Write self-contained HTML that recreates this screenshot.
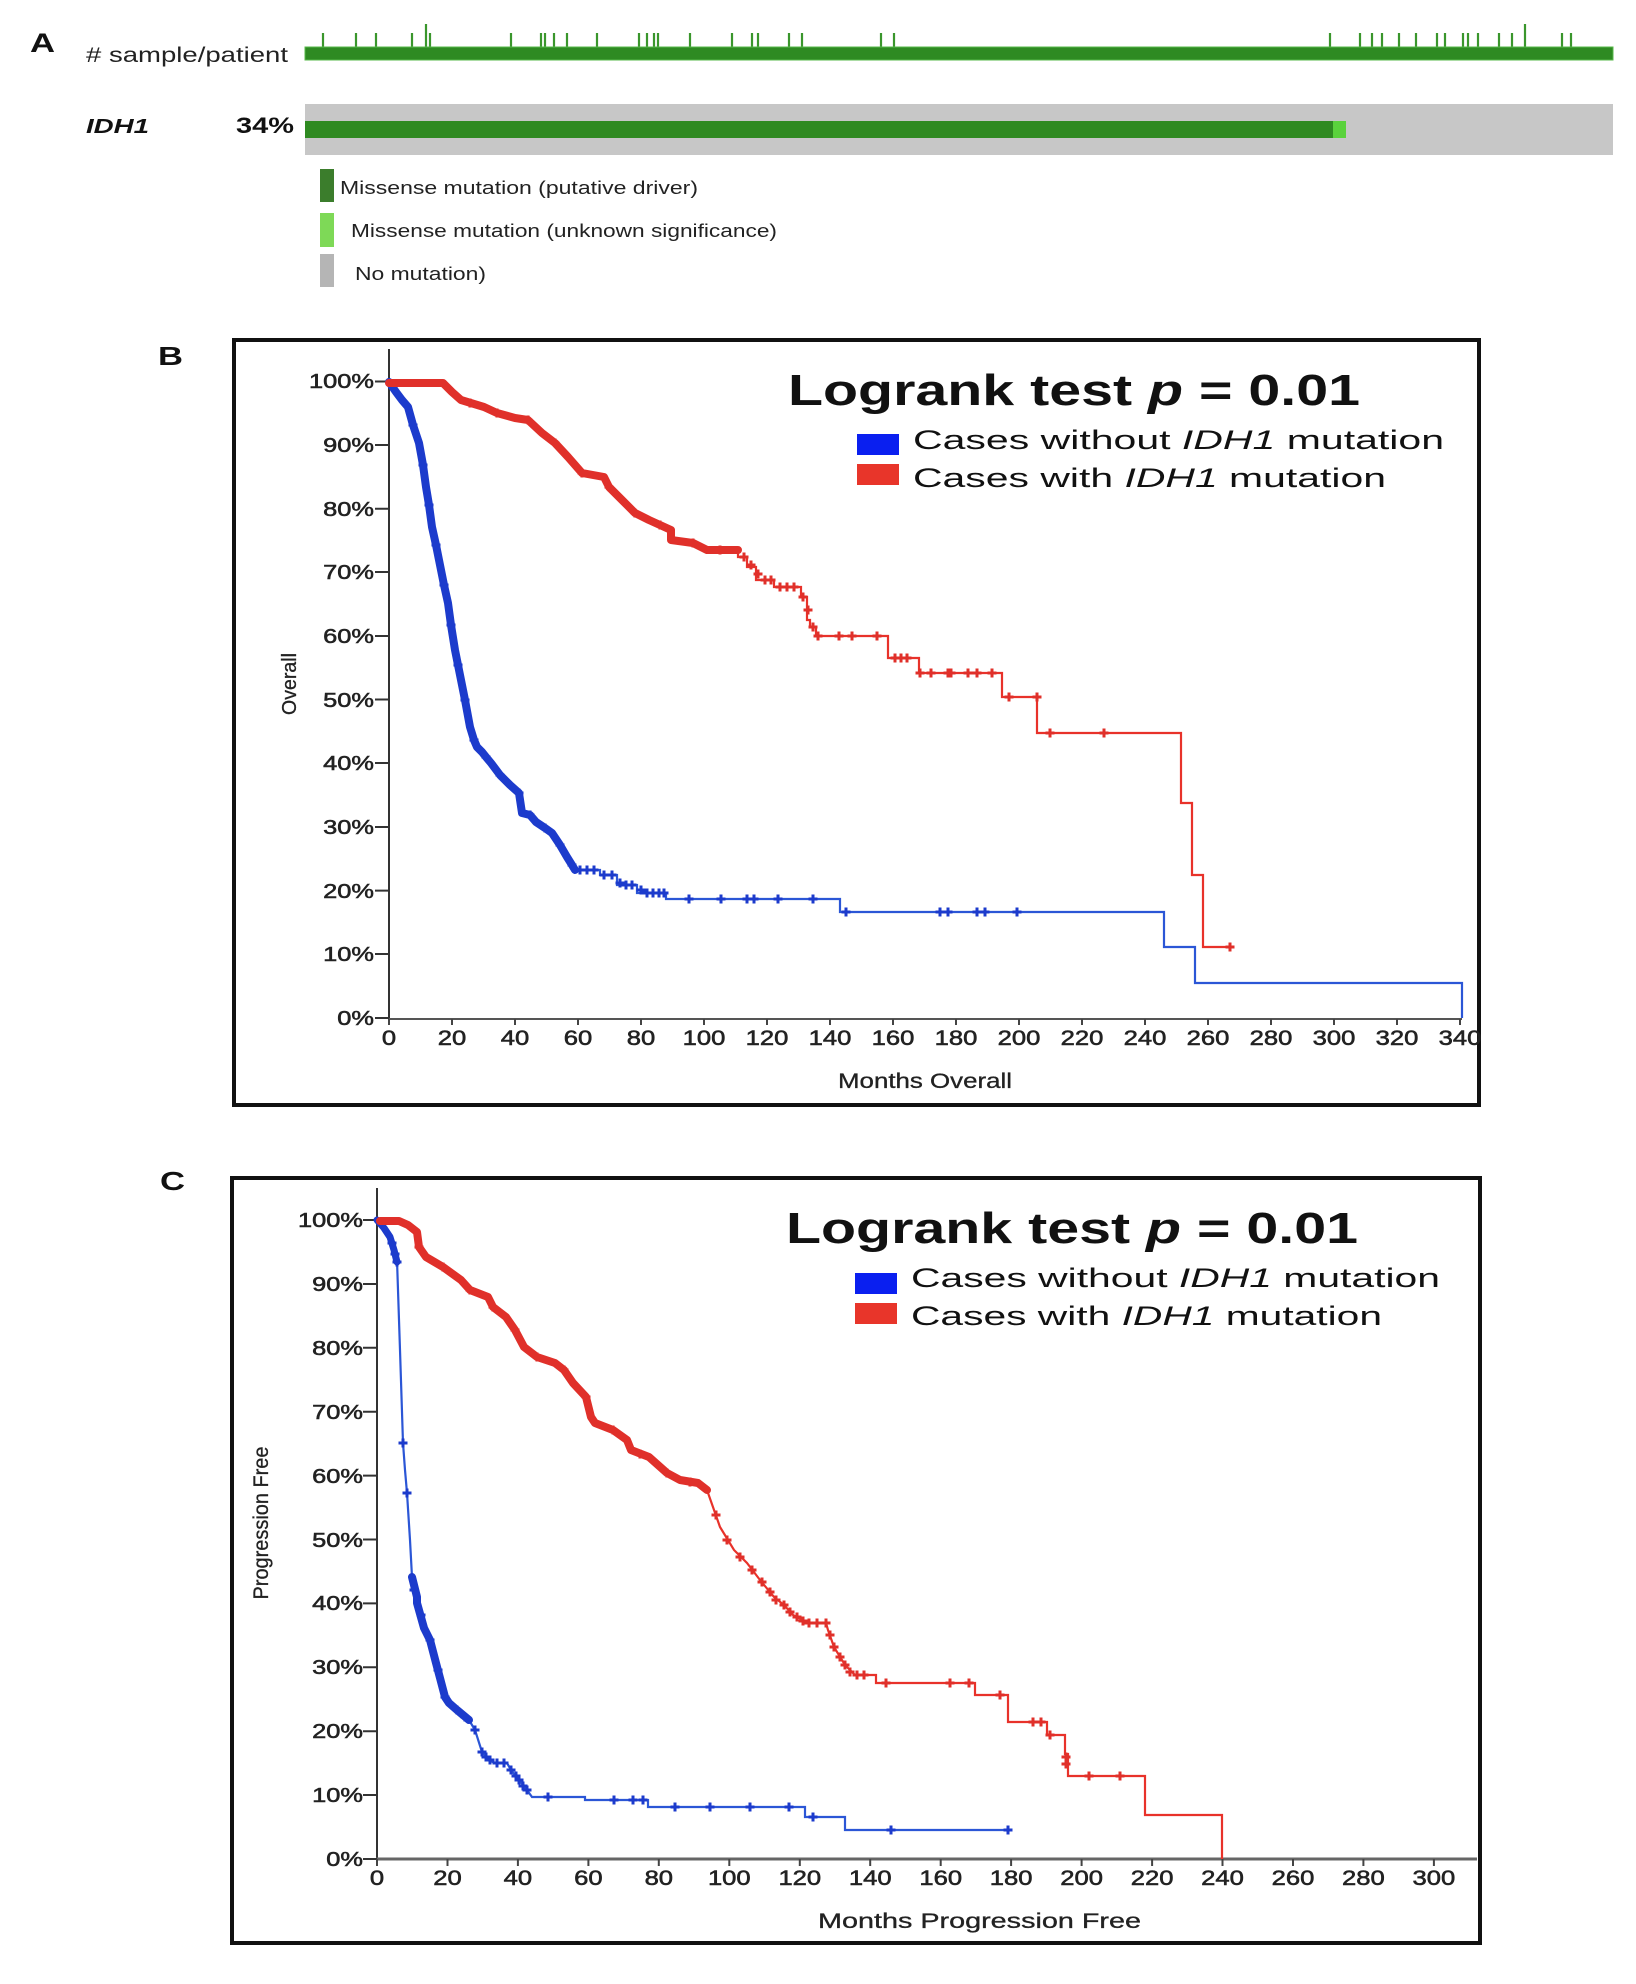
<!DOCTYPE html>
<html><head><meta charset="utf-8"><style>html,body{margin:0;padding:0;background:#fff;}svg{display:block;}</style></head>
<body>
<svg width="1636" height="1984" viewBox="0 0 1636 1984" xmlns="http://www.w3.org/2000/svg" font-family="'Liberation Sans', Arial, sans-serif">
<defs>
<path id="b" d="M-4.5,0H4.5M0,-4.5V4.5" stroke="#1c3bcc" stroke-width="3" fill="none"/>
<path id="r" d="M-4.5,0H4.5M0,-4.5V4.5" stroke="#e0302a" stroke-width="3" fill="none"/>
</defs>
<rect width="1636" height="1984" fill="#fff"/>

<!-- ===== Panel A ===== -->
<text x="30" y="52" font-size="27" font-weight="bold" fill="#111" textLength="25" lengthAdjust="spacingAndGlyphs">A</text>
<text x="86" y="62" font-size="21" fill="#222" textLength="202" lengthAdjust="spacingAndGlyphs"># sample/patient</text>
<path d="M323,33V47M356,33V47M376,33V47M412,33V47M426,24V47M430,33V47M511,33V47M541,33V47M545,33V47M554,33V47M567,33V47M597,33V47M639,33V47M647,33V47M654,33V47M658,33V47M690,33V47M732,33V47M752,33V47M758,33V47M789,33V47M802,33V47M881,33V47M894,33V47M1330,33V47M1360,33V47M1372,33V47M1382,33V47M1399,33V47M1416,33V47M1437,33V47M1445,33V47M1463,33V47M1468,33V47M1478,33V47M1499,33V47M1512,33V47M1525,24V47M1562,33V47M1571,33V47" stroke="#3a962c" stroke-width="2.2"/>
<rect x="305" y="47" width="1308" height="13" fill="#2e8a22" stroke="#57b84a" stroke-width="1"/>

<text x="86" y="133" font-size="20" font-weight="bold" font-style="italic" fill="#111" textLength="63" lengthAdjust="spacingAndGlyphs">IDH1</text>
<text x="236" y="133" font-size="22" font-weight="bold" fill="#111" textLength="58" lengthAdjust="spacingAndGlyphs">34%</text>
<rect x="305" y="104" width="1308" height="51" fill="#c7c7c7"/>
<rect x="305" y="121" width="1028" height="17" fill="#2f8a21"/>
<rect x="1333" y="121" width="13" height="17" fill="#5ad23c"/>

<rect x="320" y="169" width="14" height="33" fill="#3b7d2c"/>
<text x="340" y="194" font-size="18" fill="#222" textLength="358" lengthAdjust="spacingAndGlyphs">Missense mutation (putative driver)</text>
<rect x="320" y="213" width="14" height="34" fill="#7ed957"/>
<text x="351" y="237" font-size="18" fill="#222" textLength="426" lengthAdjust="spacingAndGlyphs">Missense mutation (unknown significance)</text>
<rect x="320" y="254" width="14" height="33" fill="#b5b5b5"/>
<text x="355" y="280" font-size="18" fill="#222" textLength="131" lengthAdjust="spacingAndGlyphs">No mutation)</text>

<!-- ===== Panel B ===== -->
<text x="158" y="365" font-size="26" font-weight="bold" fill="#111" textLength="25" lengthAdjust="spacingAndGlyphs">B</text>
<rect x="234" y="340" width="1245" height="765" fill="none" stroke="#111" stroke-width="4"/>

<line x1="389" y1="349" x2="389" y2="1019" stroke="#333" stroke-width="2"/>
<line x1="388" y1="1019" x2="1462" y2="1019" stroke="#555" stroke-width="2"/>
<path d="M375,381.5H389M375,445H389M375,508.7H389M375,572H389M375,636H389M375,699.5H389M375,763H389M375,827H389M375,890.6H389M375,954H389M375,1018H389" stroke="#333" stroke-width="2"/>
<path d="M389,1019V1025M452,1019V1025M515,1019V1025M578,1019V1025M641,1019V1025M704,1019V1025M767,1019V1025M830,1019V1025M893,1019V1025M956,1019V1025M1019,1019V1025M1082,1019V1025M1145,1019V1025M1208,1019V1025M1271,1019V1025M1334,1019V1025M1397,1019V1025M1460,1019V1025" stroke="#444" stroke-width="2"/>
<g font-size="20" fill="#222" text-anchor="end" stroke="#222" stroke-width="0.55">
<text transform="translate(374,388) scale(1.27,1)">100%</text>
<text transform="translate(374,452) scale(1.27,1)">90%</text>
<text transform="translate(374,516) scale(1.27,1)">80%</text>
<text transform="translate(374,579) scale(1.27,1)">70%</text>
<text transform="translate(374,643) scale(1.27,1)">60%</text>
<text transform="translate(374,707) scale(1.27,1)">50%</text>
<text transform="translate(374,770) scale(1.27,1)">40%</text>
<text transform="translate(374,834) scale(1.27,1)">30%</text>
<text transform="translate(374,898) scale(1.27,1)">20%</text>
<text transform="translate(374,961) scale(1.27,1)">10%</text>
<text transform="translate(374,1025) scale(1.27,1)">0%</text>
</g>
<g font-size="21" fill="#222" text-anchor="middle" stroke="#222" stroke-width="0.55">
<text transform="translate(389,1045) scale(1.22,1)">0</text>
<text transform="translate(452,1045) scale(1.22,1)">20</text>
<text transform="translate(515,1045) scale(1.22,1)">40</text>
<text transform="translate(578,1045) scale(1.22,1)">60</text>
<text transform="translate(641,1045) scale(1.22,1)">80</text>
<text transform="translate(704,1045) scale(1.22,1)">100</text>
<text transform="translate(767,1045) scale(1.22,1)">120</text>
<text transform="translate(830,1045) scale(1.22,1)">140</text>
<text transform="translate(893,1045) scale(1.22,1)">160</text>
<text transform="translate(956,1045) scale(1.22,1)">180</text>
<text transform="translate(1019,1045) scale(1.22,1)">200</text>
<text transform="translate(1082,1045) scale(1.22,1)">220</text>
<text transform="translate(1145,1045) scale(1.22,1)">240</text>
<text transform="translate(1208,1045) scale(1.22,1)">260</text>
<text transform="translate(1271,1045) scale(1.22,1)">280</text>
<text transform="translate(1334,1045) scale(1.22,1)">300</text>
<text transform="translate(1397,1045) scale(1.22,1)">320</text>
<text transform="translate(1460,1045) scale(1.22,1)">340</text>
</g>
<text x="838" y="1088" font-size="21" fill="#222" stroke="#222" stroke-width="0.3" textLength="174" lengthAdjust="spacingAndGlyphs">Months Overall</text>
<text transform="translate(296,684) rotate(-90)" text-anchor="middle" font-size="20" fill="#222" stroke="#222" stroke-width="0.3" textLength="62" lengthAdjust="spacingAndGlyphs">Overall</text>

<text x="788" y="405" font-size="44" font-weight="bold" fill="#111" textLength="572" lengthAdjust="spacingAndGlyphs">Logrank test <tspan font-style="italic">p</tspan> = 0.01</text>
<rect x="857" y="434" width="42" height="21" fill="#0a1ff0"/>
<rect x="857" y="464" width="42" height="21" fill="#e8352a"/>
<text x="913" y="449" font-size="27" fill="#111" textLength="531" lengthAdjust="spacingAndGlyphs">Cases without <tspan font-style="italic">IDH1</tspan>  mutation</text>
<text x="913" y="487" font-size="27" fill="#111" textLength="473" lengthAdjust="spacingAndGlyphs">Cases with <tspan font-style="italic">IDH1</tspan>  mutation</text>

<path d="M389,382 L396,392 L402,400 L408,407 L413,425 L419,443 L423,465 L426,487 L429,505 L432,527 L436,545 L439,560 L444,585 L448,603 L451,625 L455,650 L458,665 L461,680 L465,700 L470,727 L474,740 L477,747 L482,752 L486,757 L491,763 L500,775 L510,785 L519,793 L522,813 L530,815 L536,822 L545,828 L552,833 L560,845 L567,857 L572,865 L575,870 H600 V875 H617 V885 H637 V893 H666 V899 H840 V912 H1164 V947 H1195 V983 H1462 V1018" fill="none" stroke="#2b56d6" stroke-width="2.2"/>
<path d="M389,382 L396,392 L402,400 L408,407 L413,425 L419,443 L423,465 L426,487 L429,505 L432,527 L436,545 L439,560 L444,585 L448,603 L451,625 L455,650 L458,665 L461,680 L465,700 L470,727 L474,740 L477,747 L482,752 L486,757 L491,763 L500,775 L510,785 L519,793 L522,813 L530,815 L536,822 L545,828 L552,833 L560,845 L567,857 L572,865 L575,870" fill="none" stroke="#1c3bcc" stroke-width="8" stroke-linejoin="round" stroke-linecap="round"/>
<g>
<use href="#b" x="413" y="425"/><use href="#b" x="423" y="465"/><use href="#b" x="429" y="505"/><use href="#b" x="436" y="545"/><use href="#b" x="444" y="585"/><use href="#b" x="451" y="625"/><use href="#b" x="458" y="665"/><use href="#b" x="465" y="700"/><use href="#b" x="474" y="740"/><use href="#b" x="486" y="757"/><use href="#b" x="500" y="775"/><use href="#b" x="519" y="793"/><use href="#b" x="530" y="815"/><use href="#b" x="545" y="828"/><use href="#b" x="560" y="845"/><use href="#b" x="572" y="865"/>
<use href="#b" x="580" y="870"/><use href="#b" x="587" y="870"/><use href="#b" x="594" y="870"/><use href="#b" x="604" y="875"/><use href="#b" x="612" y="875"/><use href="#b" x="620" y="883"/><use href="#b" x="626" y="885"/><use href="#b" x="632" y="885"/><use href="#b" x="641" y="890"/><use href="#b" x="647" y="893"/><use href="#b" x="653" y="893"/><use href="#b" x="659" y="893"/><use href="#b" x="664" y="893"/>
<use href="#b" x="689" y="899"/><use href="#b" x="721" y="899"/><use href="#b" x="747" y="899"/><use href="#b" x="754" y="899"/><use href="#b" x="778" y="899"/><use href="#b" x="813" y="899"/>
<use href="#b" x="846" y="912"/><use href="#b" x="940" y="912"/><use href="#b" x="948" y="912"/><use href="#b" x="977" y="912"/><use href="#b" x="985" y="912"/><use href="#b" x="1017" y="912"/>
</g>
<path d="M389,382 H443 L452,392 L461,400 L484,407 L497,413 L515,418 L528,420 L542,433 L555,443 L568,457 L582,473 L604,477 L609,487 L622,500 L635,513 L649,520 L671,530 L671,540 L693,543 L707,550 H738 V557 H747 V567 H756 V580 H774 V587 H801 V597 H807 V620 H810 V627 H816 V636 H888 V658 H919 V673 H1002 V697 H1037 V733 H1181 V803 H1192 V875 H1203 V947 H1230" fill="none" stroke="#e8322a" stroke-width="2.2"/>
<path d="M389,383 H443 L452,392 L461,400 L484,407 L497,413 L515,418 L528,420 L542,433 L555,443 L568,457 L582,473 L604,477 L609,487 L622,500 L635,513 L649,520 L671,530 L671,540 L693,543 L707,550 H738" fill="none" stroke="#e0302a" stroke-width="8" stroke-linejoin="round" stroke-linecap="round"/>
<g>
<use href="#r" x="470" y="403"/><use href="#r" x="497" y="413"/><use href="#r" x="528" y="420"/><use href="#r" x="555" y="443"/><use href="#r" x="582" y="473"/><use href="#r" x="609" y="487"/><use href="#r" x="635" y="513"/><use href="#r" x="660" y="525"/><use href="#r" x="693" y="543"/><use href="#r" x="720" y="550"/>
<use href="#r" x="744" y="557"/><use href="#r" x="751" y="565"/><use href="#r" x="758" y="574"/><use href="#r" x="765" y="580"/><use href="#r" x="771" y="580"/><use href="#r" x="780" y="587"/><use href="#r" x="787" y="587"/><use href="#r" x="794" y="587"/><use href="#r" x="803" y="597"/><use href="#r" x="808" y="610"/><use href="#r" x="813" y="627"/><use href="#r" x="818" y="636"/>
<use href="#r" x="839" y="636"/><use href="#r" x="852" y="636"/><use href="#r" x="877" y="636"/>
<use href="#r" x="895" y="658"/><use href="#r" x="901" y="658"/><use href="#r" x="907" y="658"/>
<use href="#r" x="920" y="673"/><use href="#r" x="931" y="673"/><use href="#r" x="948" y="673"/><use href="#r" x="951" y="673"/><use href="#r" x="968" y="673"/><use href="#r" x="977" y="673"/><use href="#r" x="992" y="673"/>
<use href="#r" x="1009" y="697"/><use href="#r" x="1037" y="697"/>
<use href="#r" x="1050" y="733"/><use href="#r" x="1104" y="733"/>
<use href="#r" x="1230" y="947"/>
</g>

<!-- ===== Panel C ===== -->
<text x="160" y="1190" font-size="26" font-weight="bold" fill="#111" textLength="25" lengthAdjust="spacingAndGlyphs">C</text>
<rect x="232" y="1178" width="1248" height="765" fill="none" stroke="#111" stroke-width="4"/>

<line x1="377" y1="1188" x2="377" y2="1859" stroke="#333" stroke-width="2"/>
<line x1="376" y1="1859" x2="1477" y2="1859" stroke="#666" stroke-width="3"/>
<path d="M363,1220H377M363,1284H377M363,1347.8H377M363,1411.7H377M363,1475.6H377M363,1539.5H377M363,1603.4H377M363,1667.3H377M363,1731.2H377M363,1795H377M363,1859H377" stroke="#333" stroke-width="2"/>
<path d="M377,1859V1866M447.5,1859V1866M517.9,1859V1866M588.4,1859V1866M658.8,1859V1866M729.3,1859V1866M799.8,1859V1866M870.2,1859V1866M940.7,1859V1866M1011.1,1859V1866M1081.6,1859V1866M1152.1,1859V1866M1222.5,1859V1866M1293,1859V1866M1363.4,1859V1866M1433.9,1859V1866" stroke="#444" stroke-width="2"/>
<g font-size="20" fill="#222" text-anchor="end" stroke="#222" stroke-width="0.55">
<text transform="translate(363,1227) scale(1.27,1)">100%</text>
<text transform="translate(363,1291) scale(1.27,1)">90%</text>
<text transform="translate(363,1355) scale(1.27,1)">80%</text>
<text transform="translate(363,1419) scale(1.27,1)">70%</text>
<text transform="translate(363,1483) scale(1.27,1)">60%</text>
<text transform="translate(363,1547) scale(1.27,1)">50%</text>
<text transform="translate(363,1610) scale(1.27,1)">40%</text>
<text transform="translate(363,1674) scale(1.27,1)">30%</text>
<text transform="translate(363,1738) scale(1.27,1)">20%</text>
<text transform="translate(363,1802) scale(1.27,1)">10%</text>
<text transform="translate(363,1866) scale(1.27,1)">0%</text>
</g>
<g font-size="21" fill="#222" text-anchor="middle" stroke="#222" stroke-width="0.55">
<text transform="translate(377,1885) scale(1.22,1)">0</text>
<text transform="translate(447.5,1885) scale(1.22,1)">20</text>
<text transform="translate(517.9,1885) scale(1.22,1)">40</text>
<text transform="translate(588.4,1885) scale(1.22,1)">60</text>
<text transform="translate(658.8,1885) scale(1.22,1)">80</text>
<text transform="translate(729.3,1885) scale(1.22,1)">100</text>
<text transform="translate(799.8,1885) scale(1.22,1)">120</text>
<text transform="translate(870.2,1885) scale(1.22,1)">140</text>
<text transform="translate(940.7,1885) scale(1.22,1)">160</text>
<text transform="translate(1011.1,1885) scale(1.22,1)">180</text>
<text transform="translate(1081.6,1885) scale(1.22,1)">200</text>
<text transform="translate(1152.1,1885) scale(1.22,1)">220</text>
<text transform="translate(1222.5,1885) scale(1.22,1)">240</text>
<text transform="translate(1293,1885) scale(1.22,1)">260</text>
<text transform="translate(1363.4,1885) scale(1.22,1)">280</text>
<text transform="translate(1433.9,1885) scale(1.22,1)">300</text>
</g>
<text x="818" y="1928" font-size="21" fill="#222" stroke="#222" stroke-width="0.3" textLength="323" lengthAdjust="spacingAndGlyphs">Months Progression Free</text>
<text transform="translate(268,1523) rotate(-90)" text-anchor="middle" font-size="21" fill="#222" stroke="#222" stroke-width="0.3" textLength="153" lengthAdjust="spacingAndGlyphs">Progression Free</text>

<text x="786" y="1243" font-size="44" font-weight="bold" fill="#111" textLength="572" lengthAdjust="spacingAndGlyphs">Logrank test <tspan font-style="italic">p</tspan> = 0.01</text>
<rect x="855" y="1273" width="42" height="21" fill="#0a1ff0"/>
<rect x="855" y="1303" width="42" height="21" fill="#e8352a"/>
<text x="911" y="1287" font-size="27" fill="#111" textLength="529" lengthAdjust="spacingAndGlyphs">Cases without <tspan font-style="italic">IDH1</tspan>  mutation</text>
<text x="911" y="1325" font-size="27" fill="#111" textLength="471" lengthAdjust="spacingAndGlyphs">Cases with <tspan font-style="italic">IDH1</tspan>  mutation</text>

<path d="M377,1220 L384,1228 L390,1237 L394,1250 L397,1260 L400,1350 L403,1443 L405,1470 L407,1493 L410,1540 L412,1577 L417,1597 L417,1603 L424,1628 L430,1640 L436,1663 L440,1678 L445,1697 L449,1703 L457,1710 L469,1720 L475,1730 L482,1752 L490,1760 L494,1763 H507 L511,1770 L519,1780 L527,1790 L532,1797 H585 V1800 H648 V1807 H805 V1817 H845 V1830 H1008" fill="none" stroke="#2b56d6" stroke-width="2.2"/>
<path d="M377,1220 L384,1228 L390,1237 L394,1250 L397,1262" fill="none" stroke="#1c3bcc" stroke-width="7" stroke-linejoin="round" stroke-linecap="round"/>
<path d="M412,1577 L417,1597 L417,1603 L424,1628 L430,1640 L436,1663 L440,1678 L445,1697 L449,1703 L457,1710 L469,1720" fill="none" stroke="#1c3bcc" stroke-width="8" stroke-linejoin="round" stroke-linecap="round"/>
<g>
<use href="#b" x="392" y="1243"/><use href="#b" x="395" y="1254"/><use href="#b" x="397" y="1262"/>
<use href="#b" x="403" y="1443"/><use href="#b" x="407" y="1493"/>
<use href="#b" x="414" y="1590"/><use href="#b" x="421" y="1615"/><use href="#b" x="430" y="1640"/><use href="#b" x="438" y="1670"/><use href="#b" x="445" y="1697"/><use href="#b" x="457" y="1710"/><use href="#b" x="465" y="1717"/>
<use href="#b" x="475" y="1730"/><use href="#b" x="482" y="1752"/><use href="#b" x="486" y="1757"/><use href="#b" x="490" y="1760"/><use href="#b" x="497" y="1763"/><use href="#b" x="504" y="1763"/><use href="#b" x="511" y="1770"/><use href="#b" x="516" y="1776"/><use href="#b" x="519" y="1780"/><use href="#b" x="523" y="1786"/><use href="#b" x="527" y="1790"/>
<use href="#b" x="548" y="1797"/><use href="#b" x="614" y="1800"/><use href="#b" x="633" y="1800"/><use href="#b" x="643" y="1800"/>
<use href="#b" x="675" y="1807"/><use href="#b" x="710" y="1807"/><use href="#b" x="750" y="1807"/><use href="#b" x="789" y="1807"/>
<use href="#b" x="813" y="1817"/><use href="#b" x="891" y="1830"/><use href="#b" x="1008" y="1830"/>
</g>
<path d="M377,1220 H399 L408,1225 L417,1232 L419,1247 L426,1257 L443,1267 L461,1280 L470,1290 L488,1297 L493,1307 L506,1317 L515,1330 L524,1347 L537,1357 L555,1363 L564,1370 L573,1383 L586,1397 L591,1417 L595,1423 L613,1430 L627,1440 L631,1450 L649,1457 L667,1473 L680,1480 L698,1483 L707,1490 L720,1527 L734,1550 L747,1563 L760,1580 L774,1597 L784,1605 L793,1615 L809,1623 H826 L828,1630 L834,1647 L845,1665 L855,1675 H876 V1683 H975 V1695 H1008 V1722 H1047 V1735 H1065 V1754 H1068 V1776 H1145 V1815 H1222 V1859" fill="none" stroke="#e8322a" stroke-width="2.2"/>
<path d="M380,1221 H399 L408,1225 L417,1232 L419,1247 L426,1257 L443,1267 L461,1280 L470,1290 L488,1297 L493,1307 L506,1317 L515,1330 L524,1347 L537,1357 L555,1363 L564,1370 L573,1383 L586,1397 L591,1417 L595,1423 L613,1430 L627,1440 L631,1450 L649,1457 L667,1473 L680,1480 L698,1483 L707,1490" fill="none" stroke="#e0302a" stroke-width="8" stroke-linejoin="round" stroke-linecap="round"/>
<g>
<use href="#r" x="419" y="1247"/><use href="#r" x="443" y="1267"/><use href="#r" x="470" y="1290"/><use href="#r" x="493" y="1307"/><use href="#r" x="515" y="1330"/><use href="#r" x="537" y="1357"/><use href="#r" x="564" y="1370"/><use href="#r" x="586" y="1397"/><use href="#r" x="613" y="1430"/><use href="#r" x="640" y="1454"/><use href="#r" x="667" y="1473"/><use href="#r" x="690" y="1482"/>
<use href="#r" x="716" y="1515"/><use href="#r" x="727" y="1540"/><use href="#r" x="740" y="1557"/><use href="#r" x="752" y="1570"/><use href="#r" x="762" y="1582"/><use href="#r" x="770" y="1592"/><use href="#r" x="776" y="1600"/><use href="#r" x="784" y="1605"/><use href="#r" x="790" y="1612"/><use href="#r" x="797" y="1617"/><use href="#r" x="803" y="1621"/><use href="#r" x="809" y="1623"/><use href="#r" x="817" y="1623"/><use href="#r" x="826" y="1623"/>
<use href="#r" x="830" y="1635"/><use href="#r" x="834" y="1647"/><use href="#r" x="840" y="1657"/><use href="#r" x="845" y="1665"/><use href="#r" x="850" y="1672"/><use href="#r" x="857" y="1675"/><use href="#r" x="864" y="1675"/>
<use href="#r" x="886" y="1683"/><use href="#r" x="950" y="1683"/><use href="#r" x="969" y="1683"/>
<use href="#r" x="1000" y="1695"/><use href="#r" x="1033" y="1722"/><use href="#r" x="1041" y="1722"/><use href="#r" x="1050" y="1735"/><use href="#r" x="1066" y="1757"/><use href="#r" x="1066" y="1764"/><use href="#r" x="1089" y="1776"/><use href="#r" x="1120" y="1776"/>
</g>
</svg>
</body></html>
